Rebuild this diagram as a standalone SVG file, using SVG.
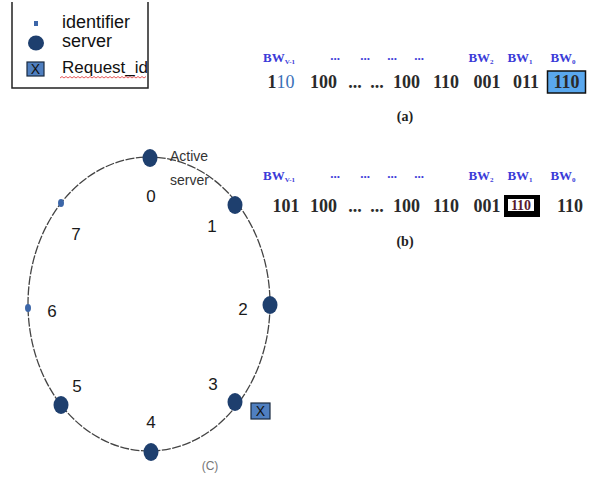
<svg xmlns="http://www.w3.org/2000/svg" width="592" height="480" viewBox="0 0 592 480">
<style>
.leg{font-family:"Liberation Sans",Arial,sans-serif;font-size:18px;fill:#111}
.num{font-family:"Liberation Sans",Arial,sans-serif;font-size:17px;fill:#1a1a1a;text-anchor:middle}
.bw{font-family:"Liberation Serif","Times New Roman",serif;font-size:13px;font-weight:bold;fill:#3b3bd8;text-anchor:middle}
.sub{font-size:7px}
.val{font-family:"Liberation Serif","Times New Roman",serif;font-size:18px;font-weight:bold;fill:#2a2a2a;text-anchor:middle}
.cap{font-family:"Liberation Serif","Times New Roman",serif;font-size:14px;font-weight:bold;fill:#222;text-anchor:middle}
.srv{fill:#1e3f6e}
.idf{fill:#3c66a8}
</style>
<rect width="592" height="480" fill="#fff"/>
<g id="legend">
<path d="M12,2 V88 H148 V2" fill="none" stroke="#222" stroke-width="1.5"/>
<rect x="34" y="21" width="4" height="5" class="idf"/>
<text x="62" y="28" class="leg">identifier</text>
<ellipse cx="36" cy="43" rx="8" ry="7.5" class="srv"/>
<text x="62" y="47" class="leg">server</text>
<rect x="27" y="62" width="17" height="14" fill="#4f7fc0" stroke="#1a2a40" stroke-width="1.2"/>
<text x="35.5" y="74" class="leg" text-anchor="middle" style="font-size:14px">X</text>
<text x="62" y="73" class="leg" style="font-size:17px">Request_id</text>
<path d="M60,78 l2,-1.5 l2,1.5 l2,-1.5 l2,1.5 l2,-1.5 l2,1.5 l2,-1.5 l2,1.5 l2,-1.5 l2,1.5 l2,-1.5 l2,1.5 l2,-1.5 l2,1.5 l2,-1.5 l2,1.5 l2,-1.5 l2,1.5 l2,-1.5 l2,1.5 l2,-1.5 l2,1.5 l2,-1.5 l2,1.5 l2,-1.5 l2,1.5 l2,-1.5 l2,1.5 l2,-1.5 l2,1.5 l2,-1.5 l2,1.5 l2,-1.5 l2,1.5 l2,-1.5 l2,1.5 l2,-1.5 l2,1.5 l2,-1.5 l2,1.5 l2,-1.5 l2,1.5 l2,-1.5" fill="none" stroke="#e03030" stroke-width="0.8"/>
</g>
<g id="panel-a">
<text x="279" y="62" class="bw">BW<tspan class="sub" dy="2">V-1</tspan></text>
<text x="335" y="60" class="bw">...</text>
<text x="365" y="60" class="bw">...</text>
<text x="392" y="60" class="bw">...</text>
<text x="419" y="60" class="bw">...</text>
<text x="481" y="62" class="bw">BW<tspan class="sub" dy="2">2</tspan></text>
<text x="520" y="62" class="bw">BW<tspan class="sub" dy="2">1</tspan></text>
<text x="563" y="62" class="bw">BW<tspan class="sub" dy="2">0</tspan></text>
<text x="281" y="88" class="val">1<tspan style="fill:#3a70b8;font-weight:normal">10</tspan></text>
<text x="323.5" y="88" class="val">100</text>
<text x="355" y="88" class="val">...</text>
<text x="377" y="88" class="val">...</text>
<text x="406.5" y="88" class="val">100</text>
<text x="446" y="88" class="val">110</text>
<text x="487" y="88" class="val">001</text>
<text x="526" y="88" class="val">011</text>
<rect x="547.5" y="71" width="38" height="22" fill="#5aa8ee" stroke="#111" stroke-width="1.5"/>
<text x="566.5" y="88" class="val">110</text>
<text x="405" y="121" class="cap">(a)</text>
</g>
<g id="panel-b">
<text x="279" y="180" class="bw">BW<tspan class="sub" dy="2">V-1</tspan></text>
<text x="335" y="178" class="bw">...</text>
<text x="365" y="178" class="bw">...</text>
<text x="392" y="178" class="bw">...</text>
<text x="419" y="178" class="bw">...</text>
<text x="481" y="180" class="bw">BW<tspan class="sub" dy="2">2</tspan></text>
<text x="520" y="180" class="bw">BW<tspan class="sub" dy="2">1</tspan></text>
<text x="563" y="180" class="bw">BW<tspan class="sub" dy="2">0</tspan></text>
<text x="286" y="212" class="val">101</text>
<text x="323.5" y="212" class="val">100</text>
<text x="355" y="212" class="val">...</text>
<text x="377" y="212" class="val">...</text>
<text x="406.5" y="212" class="val">100</text>
<text x="446" y="212" class="val">110</text>
<text x="487" y="212" class="val">001</text>
<rect x="504" y="195" width="36" height="22" fill="#000"/>
<rect x="508" y="199" width="26" height="12" fill="#fff"/>
<text x="521" y="210" class="val" style="font-size:14px;fill:#5a1a30">110</text>
<text x="570" y="212" class="val">110</text>
<text x="405" y="246" class="cap">(b)</text>
</g>
<g id="connectors">
<ellipse cx="149" cy="304" rx="121" ry="147" fill="none" stroke="#444" stroke-width="1.3" stroke-dasharray="9 1.5"/>
</g>
<g id="n0"><ellipse cx="150" cy="158" rx="7.5" ry="9" class="srv"/><text x="151" y="202" class="num">0</text></g>
<g id="n1"><ellipse cx="235" cy="205" rx="7.5" ry="9" class="srv"/><text x="212" y="232" class="num">1</text></g>
<g id="n2"><ellipse cx="270" cy="305" rx="7.5" ry="9" class="srv"/><text x="243" y="315" class="num">2</text></g>
<g id="n3"><ellipse cx="235" cy="402" rx="7.5" ry="9" class="srv"/><text x="213" y="390" class="num">3</text></g>
<g id="n4"><ellipse cx="151" cy="452" rx="7.5" ry="9" class="srv"/><text x="151" y="428" class="num">4</text></g>
<g id="n5"><ellipse cx="61" cy="405" rx="7.5" ry="9" class="srv"/><text x="77" y="392" class="num">5</text></g>
<g id="n6"><ellipse cx="28" cy="308" rx="3" ry="4" class="idf"/><text x="52" y="317" class="num">6</text></g>
<g id="n7"><ellipse cx="61" cy="203" rx="3" ry="4" class="idf"/><text x="76" y="240" class="num">7</text></g>
<g id="active-label">
<text x="170" y="161" class="leg" style="font-size:14px;fill:#333">Active</text>
<text x="170" y="185" class="leg" style="font-size:14px;fill:#333">server</text>
</g>
<g id="request">
<rect x="251" y="403" width="19" height="16" fill="#4f7fc0" stroke="#1a2a40" stroke-width="1.2"/>
<text x="260.5" y="416" class="num" style="font-size:14px;fill:#111">X</text>
</g>
<text x="210" y="470" class="num" style="font-size:12px;fill:#777">(C)</text>
</svg>
